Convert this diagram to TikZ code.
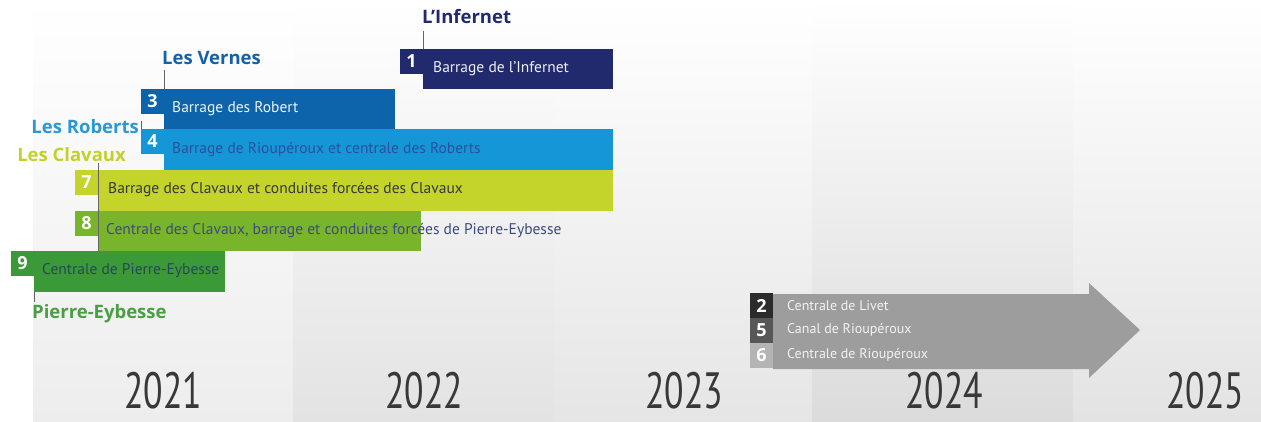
\documentclass[tikz,border=0pt]{standalone}
\usepackage{fontspec}
\setmainfont{PT Sans}
\newfontfamily\yearfam[FakeStretch=0.7]{PT Sans}
\newfontfamily\labelfam{Open Sans}
\definecolor{cI}{HTML}{222A6E}
\definecolor{cIII}{HTML}{0D64AB}
\definecolor{cIV}{HTML}{1596D6}
\definecolor{cVII}{HTML}{C4D42B}
\definecolor{cVIII}{HTML}{79B52B}
\definecolor{cIX}{HTML}{3B9A37}
\definecolor{lVernes}{HTML}{1561A8}
\definecolor{lRoberts}{HTML}{2A98D6}
\definecolor{lClavaux}{HTML}{C2D12C}
\definecolor{lPierre}{HTML}{4A9F43}
\definecolor{tIV}{HTML}{2B4F9E}
\definecolor{tVIII}{HTML}{3E4A7E}
\definecolor{tIX}{HTML}{24485C}
\definecolor{arrowgrey}{HTML}{9D9D9D}
\definecolor{nII}{HTML}{2B2B2B}
\definecolor{nV}{HTML}{575757}
\definecolor{nVI}{HTML}{B4B4B4}
\begin{document}
\begin{tikzpicture}[x=1pt,y=-1pt,
  barbox/.style={draw=none, inner sep=0pt, outer sep=0pt, anchor=north west, minimum height=40pt},
  numbox/.style={inner sep=0pt, outer sep=0pt, anchor=north west, minimum width=23pt, minimum height=25pt, text=white, font=\labelfam\fontsize{18}{20}\selectfont\bfseries},
  bartext/.style={anchor=west, inner sep=0pt, font=\fontsize{15.5}{17}\selectfont},
  arrtext/.style={anchor=west, inner sep=0pt, text=white!95!black, font=\fontsize{14}{16}\selectfont},
  place/.style={inner sep=0pt, font=\labelfam\fontsize{18.5}{20}\selectfont\bfseries},
  leader/.style={draw=black!60, line width=0.8pt},
  yearlbl/.style={inner sep=0pt, text=black!78, font=\yearfam\fontsize{51}{54}\selectfont}
]
\useasboundingbox (0,0) rectangle (1261,421);
\fill[white] (0,0) rectangle (1261,421);
% background columns
\shade[top color=white, bottom color=black!7] (33,0) rectangle (293,421);
\shade[top color=white, bottom color=black!11] (293,0) rectangle (555,421);
\shade[top color=white, bottom color=black!10] (555,0) rectangle (812,421);
\shade[top color=white, bottom color=black!14] (812,0) rectangle (1073,421);
\shade[top color=white, bottom color=black!11] (1073,0) rectangle (1261,421);

% bars
\node[barbox, fill=cI, minimum width=190pt] (b1) at (423,49) {};
\node[numbox, fill=cI] (n1) at (400,49) {1};
\node[barbox, fill=cIII, minimum width=231pt] (b3) at (164,89) {};
\node[numbox, fill=cIII] (n3) at (141,89) {3};
\node[barbox, fill=cIV, minimum width=449pt, minimum height=41pt] (b4) at (164,129) {};
\node[numbox, fill=cIV] (n4) at (141,129) {4};
\node[barbox, fill=cVII, minimum width=515pt, minimum height=41pt] (b7) at (98,170) {};
\node[numbox, fill=cVII] (n7) at (75,170) {7};
\node[barbox, fill=cVIII, minimum width=323pt] (b8) at (98,211) {};
\node[numbox, fill=cVIII] (n8) at (75,211) {8};
\node[barbox, fill=cIX, minimum width=191pt, minimum height=41pt] (b9) at (34,251) {};
\node[numbox, fill=cIX] (n9) at (11,251) {9};

% bar texts
\node[bartext, text=white!92!cI] (t1) at (433,69) {Barrage de l'Infernet};
\node[bartext, text=white!92!cIII] (t3) at (172,109) {Barrage des Robert};
\node[bartext, text=tIV] (t4) at (172,150) {Barrage de Rioupéroux et centrale des Roberts};
\node[bartext, text=black!78] (t7) at (108,190) {Barrage des Clavaux et conduites forcées des Clavaux};
\node[bartext, text=tVIII] (t8) at (106,231) {Centrale des Clavaux, barrage et conduites forcées de Pierre-Eybesse};
\node[bartext, text=tIX] (t9) at (42,271) {Centrale de Pierre-Eybesse};

% place labels
\node[place, anchor=west, text=cI] (lInf) at (422,17) {L’Infernet};
\node[place, anchor=west, text=lVernes] (lVer) at (162,58) {Les Vernes};
\node[place, anchor=east, text=lRoberts] (lRob) at (139,127) {Les Roberts};
\node[place, anchor=east, text=lClavaux] (lCla) at (126,155) {Les Clavaux};
\node[place, anchor=west, text=lPierre] (lPie) at (32,314) {Pierre-Eybesse};

% leaders
\draw[leader] (b1.north west) -- (b1.north west |- 0,31);
\draw[leader] (b3.north west) -- (b3.north west |- 0,70);
\draw[leader] (n4.north west) -- ++(0,-8);
\draw[leader] (b8.south west) -- (b7.north west |- 0,163);
\draw[leader] (b9.south west) -- (b9.south west |- 0,302);

% grey arrow
\fill[arrowgrey] (773,294) -- (1089,294) -- (1089,283) -- (1140,330) -- (1089,378) -- (1089,369) -- (773,369) -- cycle;
\node[numbox, fill=nII] (n2) at (750,293) {2};
\node[numbox, fill=nV] (n5) at (750,318) {5};
\node[numbox, fill=nVI] (n6) at (750,343) {6};
\node[arrtext] (t2) at (787,306) {Centrale de Livet};
\node[arrtext] (t5) at (787,330) {Canal de Rioupéroux};
\node[arrtext] (t6) at (787,355) {Centrale de Rioupéroux};

% years
\node[yearlbl] (y1) at (163,391) {2021};
\node[yearlbl] (y2) at (424,391) {2022};
\node[yearlbl] (y3) at (684,391) {2023};
\node[yearlbl] (y4) at (944,391) {2024};
\node[yearlbl] (y5) at (1205,391) {2025};
\end{tikzpicture}
\end{document}
